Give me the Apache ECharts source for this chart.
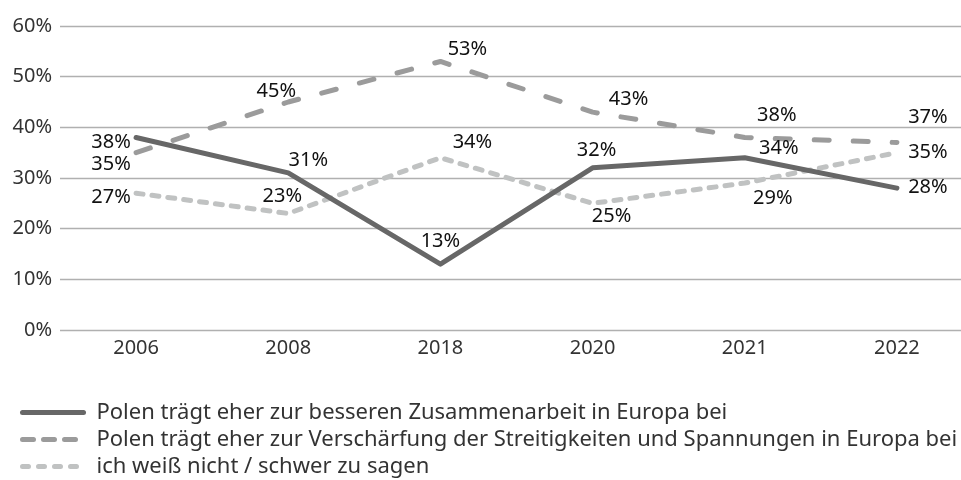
<!DOCTYPE html>
<html>
<head>
<meta charset="utf-8">
<script src="https://cdn.jsdelivr.net/npm/echarts@6/dist/echarts.min.js"></script>
<style>
  html, body { margin: 0; padding: 0; background: #fff; overflow: hidden; }
  /* plot area runs past the right edge of the window */
  #chart { width: 973px; height: 480px; }
</style>
</head>
<body>
<div id="chart"></div>
<script>
// Survey years
const years = ['2006', '2008', '2018', '2020', '2021', '2022'];

// Shares of answers, in percent
const cooperation = [38, 31, 13, 32, 34, 28];
const tensions = [35, 45, 53, 43, 38, 37];
const dontKnow = [27, 23, 34, 25, 29, 35];

// Series names
const names = [
  'Polen trägt eher zur besseren Zusammenarbeit in Europa bei',
  'Polen trägt eher zur Verschärfung der Streitigkeiten und Spannungen in Europa bei',
  'ich weiß nicht / schwer zu sagen'
];

// Y axis tick labels (0..60 step 10)
const yTicks = [0, 10, 20, 30, 40, 50, 60];

// Value label placement relative to each point (px)
const offsCooperation = [[-25, 5], [20, -13], [0, -23], [4, -18], [34, -9], [31, -1]];
const offsTensions = [[-25, 12], [-12, -11], [27, -12], [36, -13], [32, -22], [31, -25]];
const offsDontKnow = [[-25, 4], [-6, -17], [32, -15], [19, 13], [28, 15], [31, 0]];

const FONT = '"Noto Sans", sans-serif';
const colors = ['#676767', '#9b9b9b', '#c0c2c2'];
const dashes = ['solid', [15, 24], [7, 9]];
const legendDashes = ['solid', [11, 10], [6, 10]];

function buildSeries(name, values, offsets, idx) {
  return {
    name: name,
    type: 'line',
    data: values.map((v, i) => ({
      value: v,
      label: { offset: offsets[i] }
    })),
    symbol: 'circle',
    symbolSize: 1,
    showSymbol: true,
    itemStyle: { color: 'rgba(0,0,0,0)' },
    lineStyle: { color: colors[idx], width: 5, type: dashes[idx], cap: 'round', join: 'round' },
    label: {
      show: true,
      position: 'inside',
      align: 'center',
      verticalAlign: 'middle',
      formatter: p => p.value + '%',
      color: '#111',
      fontFamily: FONT,
      fontSize: 20
    },
    emphasis: { disabled: true },
    animation: false,
    z: 3 - idx
  };
}

const chart = echarts.init(document.getElementById('chart'), null, { renderer: 'canvas' });

chart.setOption({
  backgroundColor: '#ffffff',
  animation: false,
  grid: { left: 60, top: 26, right: 0, bottom: 150, containLabel: false },
  xAxis: {
    type: 'category',
    data: years,
    boundaryGap: true,
    axisLine: { show: false },
    axisTick: { show: false },
    axisLabel: { color: '#333', fontFamily: FONT, fontSize: 20, margin: 8 }
  },
  yAxis: {
    type: 'value',
    min: yTicks[0],
    max: yTicks[yTicks.length - 1],
    interval: yTicks[1] - yTicks[0],
    axisLine: { show: false },
    axisTick: { show: false },
    axisLabel: { color: '#333', fontFamily: FONT, fontSize: 20, margin: 8, formatter: v => v + '%' },
    splitLine: { lineStyle: { color: '#b0b0b0', width: 1.3 } }
  },
  legend: {
    orient: 'vertical',
    left: 20,
    top: 399,
    padding: 0,
    itemWidth: 61,
    itemHeight: 14,
    itemGap: 0,
    selectedMode: false,
    textStyle: { color: '#333', fontFamily: FONT, fontSize: 22, lineHeight: 27, padding: [0, 0, 0, 8] },
    data: names.map((n, i) => ({
      name: n,
      itemStyle: { opacity: 0 },
      lineStyle: { color: colors[i], width: 5, type: legendDashes[i], cap: 'round' }
    }))
  },
  series: [
    buildSeries(names[0], cooperation, offsCooperation, 0),
    buildSeries(names[1], tensions, offsTensions, 1),
    buildSeries(names[2], dontKnow, offsDontKnow, 2)
  ]
});
</script>
</body>
</html>
